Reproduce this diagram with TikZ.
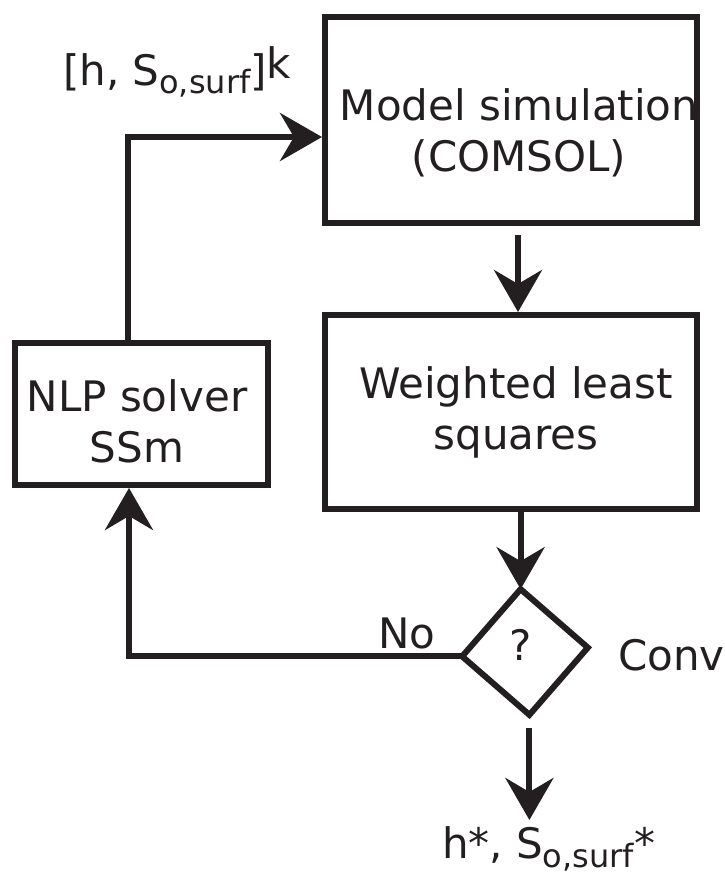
\documentclass[tikz,border=0pt]{standalone}
\usepackage{fontspec}
\setmainfont{DejaVu Sans}
\usetikzlibrary{arrows.meta,shapes.geometric}
\definecolor{ink}{RGB}{35,31,32}
\tikzset{
  boxstyle/.style={draw=ink, line width=6.5pt, rectangle, inner sep=0pt, outer sep=0pt},
  decstyle/.style={draw=ink, line width=6pt, diamond, inner sep=0pt, outer sep=0pt},
  arr/.style={draw=ink, line width=6pt, -{Stealth[length=42pt,width=48pt,inset=14pt]}},
  conn/.style={draw=ink, line width=6pt},
  txt/.style={text=ink, font=\fontsize{42}{51}\selectfont, inner sep=0pt, outer sep=0pt, align=center},
  lbl/.style={text=ink, font=\fontsize{42}{51}\selectfont, inner sep=0pt, outer sep=0pt},
}
\newcommand{\subtxt}[2]{\raisebox{#1}{\fontsize{32}{34}\selectfont #2}}
\begin{document}
\begin{tikzpicture}[x=1pt,y=-1pt]
  \useasboundingbox (0,0) rectangle (725,887);
  \fill[white] (0,0) rectangle (725,887);

  % boxes
  \node[boxstyle, minimum width=372pt, minimum height=206pt] (msim) at (511,120) {};
  \node[boxstyle, minimum width=372pt, minimum height=194pt] (wls) at (511,412) {};
  \node[boxstyle, minimum width=253pt, minimum height=142pt] (nlp) at (141.5,414) {};
  \node[decstyle, minimum width=126pt, minimum height=126pt, rotate=4] (dec) at (525,652) {};

  % box texts
  \node[txt, anchor=north] (msimtxt) at (519,89) {Model simulation\\(COMSOL)};
  \node[txt, anchor=north] (wlstxt) at (516,367) {Weighted least\\squares};
  \node[txt, anchor=north] (nlptxt) at (137,380) {NLP solver\\SSm};
  \node[lbl, anchor=base] (qm) at (521,660) {?};

  % labels
  \node[lbl, anchor=base west] (inlbl) at (63,85) {[h, S\subtxt{-8pt}{o,surf}]\raisebox{7pt}{k}};
  \node[lbl, anchor=base west] (nolbl) at (378,648) {No};
  \node[lbl, anchor=base west] (conv) at (618,670) {Conv};
  \node[lbl, anchor=base west] (outlbl) at (442,858) {h*, S\subtxt{-9pt}{o,surf}*};
  \coordinate (outtip) at (529,807);

  % connectors
  \draw[arr] ([xshift=-13.5pt]nlp.north) |- ([xshift=-3pt,yshift=-17pt]msim.west);
  \draw[arr] ([xshift=7pt,yshift=-12pt]msim.south) -- ([xshift=7pt,yshift=3pt]wls.north);
  \draw[arr] (dec.north |- wls.south) -- (dec.north);
  \draw[arr] ([yshift=-13pt]dec.south) -- ([yshift=-13pt]dec.south |- outtip);
  \draw[arr] (dec.west) -| ([xshift=-12.5pt,yshift=-3pt]nlp.south);
\end{tikzpicture}
\end{document}
